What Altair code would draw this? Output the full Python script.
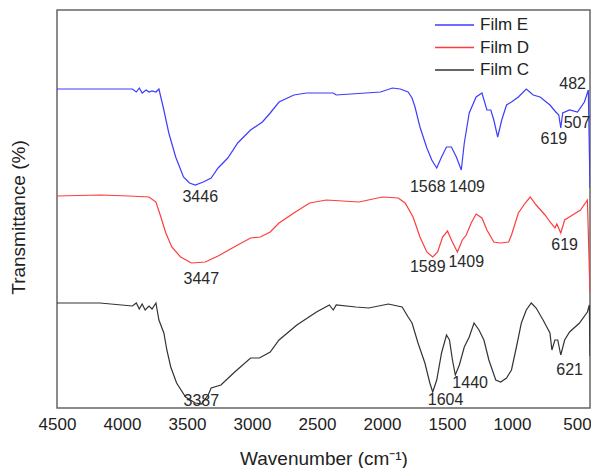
import altair as alt
import pandas as pd

FONT = "Liberation Sans"

films = ["Film E", "Film D", "Film C"]
colors = ["#3c3cff", "#ff3c3c", "#333333"]

E_wn = [4500, 4170, 3920, 3890, 3867, 3845, 3814, 3792, 3769, 3739, 3716, 3678, 3640, 3587, 3527, 3481, 3436,
        3375, 3314, 3261, 3186, 3110, 3011, 2920, 2860, 2792, 2678, 2580, 2375, 2352, 2125, 2011, 1920, 1860,
        1799, 1769, 1746, 1708, 1655, 1617, 1579, 1542, 1504, 1466, 1428, 1390, 1367, 1329, 1276, 1231, 1193,
        1163, 1140, 1110, 1079, 1042, 1004, 951, 890, 837, 784, 708, 663, 640, 625, 610, 557, 496, 443, 413, 400]
E_T = [79.75, 79.75, 79.75, 79, 80, 78.75, 79.5, 79, 79.25, 79, 79.75, 74.5, 68.75, 62.75, 57.75, 56.25, 55.75,
       56.5, 57.5, 60, 62.5, 66.25, 69.5, 71.5, 73.75, 76.5, 78.25, 78.75, 78.75, 78.25, 78.75, 79, 80, 79.75,
       79, 77.5, 75.25, 70.25, 65, 62, 60, 62.75, 65.25, 65.25, 62.75, 59.5, 66.25, 73.75, 77.75, 78.75, 74.5,
       74.5, 72, 67.75, 72, 75.75, 76.5, 77.75, 79.75, 78.25, 77.75, 75.75, 74, 73.25, 70, 73.75, 74.5, 74, 76.5,
       79.5, 55]

D_wn = [4500, 4170, 3943, 3792, 3739, 3701, 3663, 3617, 3549, 3466, 3360, 3261, 3110, 3011, 2936, 2860, 2792,
        2678, 2557, 2428, 2178, 1996, 1875, 1822, 1761, 1708, 1655, 1610, 1572, 1534, 1496, 1466, 1420, 1382,
        1352, 1314, 1276, 1231, 1193, 1140, 1087, 1026, 1004, 951, 898, 860, 814, 746, 701, 670, 655, 625, 595,
        534, 473, 420, 400]
D_T = [53, 53.25, 53, 52.75, 51.5, 47.75, 43.75, 40.25, 37.75, 36.25, 36.5, 38, 40.75, 42.5, 42.75, 44, 46.25,
       48.75, 51.25, 52, 51.5, 52.75, 52.5, 51.25, 47.75, 42.75, 39, 37.75, 39, 42.75, 44.25, 42, 39, 42, 43.25,
       46.25, 48.5, 47.5, 44.5, 41.5, 41.25, 41.5, 43.25, 48.75, 51.25, 52.75, 50.75, 48.25, 46.25, 45, 46,
       43.75, 47, 48.25, 49.5, 52, 28.75]

C_wn = [4500, 4170, 3920, 3890, 3867, 3845, 3822, 3792, 3769, 3739, 3716, 3678, 3655, 3625, 3580, 3511, 3436,
        3390, 3337, 3314, 3239, 3133, 3011, 2943, 2860, 2792, 2655, 2504, 2405, 2375, 2352, 2201, 2102, 1951,
        1845, 1799, 1769, 1723, 1670, 1632, 1610, 1579, 1542, 1504, 1481, 1458, 1436, 1405, 1367, 1329, 1292,
        1254, 1216, 1178, 1125, 1087, 1042, 1004, 966, 928, 890, 852, 814, 761, 708, 693, 670, 648, 625, 595,
        557, 481, 420, 405, 400]
C_T = [26.25, 26.25, 25.5, 26.25, 24.75, 26, 24.5, 25.5, 24.75, 26.25, 22, 18.75, 14.5, 10.25, 6.25, 2.75, 1.25,
       1, 3.25, 5, 5.75, 9, 12.5, 12.5, 14, 17, 20.75, 24, 25.75, 24.5, 25.75, 25.25, 25, 26, 25.25, 22.75,
       21.25, 16.25, 11.25, 6.25, 4, 7, 13.75, 18.25, 17, 12, 8.25, 10.75, 15.25, 17.75, 21.25, 19.5, 17, 12, 7,
       6.5, 7.5, 9.5, 15.25, 21.25, 24.5, 26.25, 25, 22, 18.75, 14.5, 17, 17, 13.25, 17, 19, 21.25, 24, 25.75, 13]

ann_text = ["3446", "1568", "1409", "619", "507", "482",
            "3447", "1589", "1409", "619",
            "3387", "1604", "1440", "621"]
ann_wn = [3398, 1648, 1345, 678, 500, 534,
          3390, 1648, 1352, 595,
          3390, 1511, 1322, 557]
ann_T = [52.75, 55.25, 55.25, 67.25, 71.25, 81,
         32.25, 35.25, 36.5, 40.75,
         1.75, 2, 6.25, 9.5]

tick_values = [4500, 4000, 3500, 3000, 2500, 2000, 1500, 1000, 500]

rows = []
for name, wn, tt in [("Film E", E_wn, E_T), ("Film D", D_wn, D_T), ("Film C", C_wn, C_T)]:
    for i, (w, v) in enumerate(zip(wn, tt)):
        rows.append({"film": name, "wn": w, "T": v, "idx": i})
df = pd.DataFrame(rows)
ann = pd.DataFrame({"label": ann_text, "wn": ann_wn, "T": ann_T})
leg = pd.DataFrame({"film": films})

xscale = alt.Scale(domain=[4500, 400], nice=False, zero=False)
yscale = alt.Scale(domain=[0, 99.5], nice=False, zero=False)
cscale = alt.Scale(domain=films, range=colors)

lines = alt.Chart(df).mark_line(strokeWidth=1.2, clip=True).encode(
    x=alt.X("wn:Q", scale=xscale,
            axis=alt.Axis(title="Wavenumber (cm⁻¹)", values=tick_values, format="d",
                          grid=False, ticks=False, tickSize=0, domain=False, labelFlush=False,
                          labelFontSize=17, labelPadding=8, labelColor="#222222",
                          labelFont=FONT, titleFont=FONT, titleFontSize=19,
                          titleFontWeight="normal", titleColor="#222222",
                          titleY=56, titleBaseline="alphabetic")),
    y=alt.Y("T:Q", scale=yscale,
            axis=alt.Axis(title="Transmittance (%)", labels=False, ticks=False, grid=False,
                          domain=False, titleFont=FONT, titleFontSize=19,
                          titleFontWeight="normal", titleColor="#222222",
                          titleX=-39, titleY=207, titleBaseline="middle", titleAngle=-90)),
    color=alt.Color("film:N", scale=cscale, legend=None),
    order="idx:Q",
    detail="film:N",
)

labels = alt.Chart(ann).mark_text(fontSize=16, font=FONT, color="#2a2a2a",
                                  align="center", baseline="middle").encode(
    x=alt.X("wn:Q", scale=xscale),
    y=alt.Y("T:Q", scale=yscale),
    text="label:N",
)

leg_y = alt.Y("film:N", scale=alt.Scale(type="point", domain=films, range=[15, 60], padding=0), axis=None)
leg_rules = alt.Chart(leg).mark_rule(strokeWidth=1.5).encode(
    x=alt.value(378), x2=alt.value(417), y=leg_y,
    color=alt.Color("film:N", scale=cscale, legend=None),
)
leg_text = alt.Chart(leg).mark_text(align="left", baseline="middle", fontSize=17, font=FONT,
                                    color="#222222").encode(
    x=alt.value(423), y=leg_y, text="film:N",
)
legend_layer = alt.layer(leg_rules, leg_text)

chart = alt.layer(alt.layer(lines, labels), legend_layer).resolve_scale(y="independent").properties(
    width=533, height=398,
    padding={"left": 49, "top": 2, "right": 1, "bottom": 60},
    autosize=alt.AutoSizeParams(type="none"),
).configure(background="white").configure_view(stroke="#666666", strokeWidth=1.5)

chart.save("out.html", embed_options={"renderer": "svg", "actions": False})
